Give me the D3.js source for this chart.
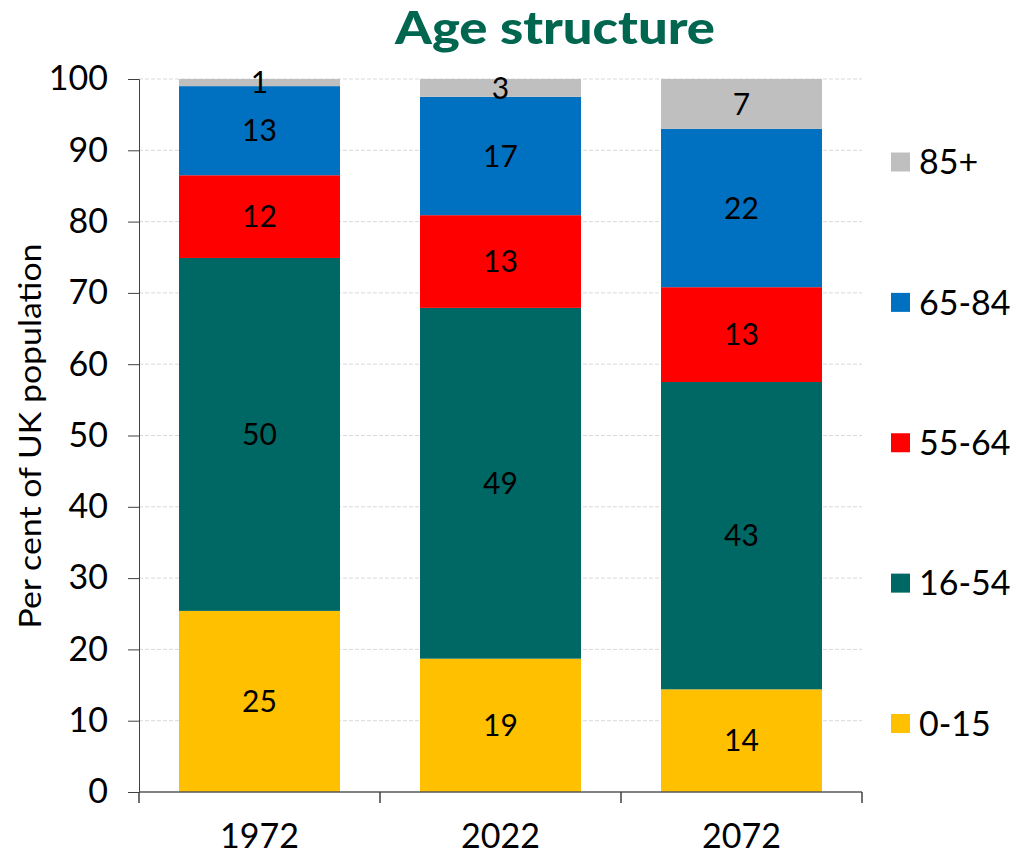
<!DOCTYPE html>
<html>
<head>
<meta charset="utf-8">
<script src="https://cdn.jsdelivr.net/npm/d3@7"></script>
<style>
  body { margin: 0; background: #fff; }
  svg text { font-family: Lato, "Noto Sans", sans-serif; }
</style>
</head>
<body>
<div id="chart"></div>
<script>
// data (per cent of UK population)
var years = ['1972', '2022', '2072'];
var groups = ['0-15', '16-54', '55-64', '65-84', '85+'];
var colours = ['#FFC000', '#006864', '#FF0000', '#0070C0', '#BFBFBF'];
var age0to15 = [25.4, 18.7, 14.4];
var age16to54 = [49.5, 49.2, 43.1];
var age55to64 = [11.6, 13.0, 13.3];
var age65to84 = [12.5, 16.6, 22.2];
var age85plus = [1.0, 2.5, 7.0];
var yTicks = [0, 10, 20, 30, 40, 50, 60, 70, 80, 90, 100];

var w = 1036, h = 855;
var plotLeft = 139, plotRight = 862, plotTop = 79, plotBottom = 792;

var rows = years.map(function (y, i) {
  return { year: y, '0-15': age0to15[i], '16-54': age16to54[i], '55-64': age55to64[i],
           '65-84': age65to84[i], '85+': age85plus[i] };
});
var stack = d3.stack().keys(groups)(rows);

var svg = d3.select('#chart').append('svg').attr('width', w).attr('height', h);

var x = d3.scaleBand().domain(years).range([plotLeft, plotRight]).paddingInner(0.332).paddingOuter(0.166);
var y = d3.scaleLinear().domain([0, 100]).range([plotBottom, plotTop]);
var colour = d3.scaleOrdinal().domain(groups).range(colours);

// gridlines
svg.append('g').selectAll('line').data(yTicks.slice(1)).enter().append('line')
  .attr('x1', plotLeft).attr('x2', plotRight)
  .attr('y1', function (d) { return y(d); }).attr('y2', function (d) { return y(d); })
  .attr('stroke', '#d9d9d9').attr('stroke-width', 1).attr('stroke-dasharray', '4,2');

// bars
var layer = svg.append('g').selectAll('g').data(stack).enter().append('g')
  .attr('fill', function (d) { return colour(d.key); });
layer.selectAll('rect').data(function (d) { return d; }).enter().append('rect')
  .attr('x', function (d) { return x(d.data.year); })
  .attr('width', x.bandwidth())
  .attr('y', function (d) { return y(d[1]); })
  .attr('height', function (d) { return y(d[0]) - y(d[1]); });

// value labels
layer.selectAll('text').data(function (d) { return d; }).enter().append('text')
  .attr('x', function (d) { return x(d.data.year) + x.bandwidth() / 2; })
  .attr('y', function (d) { return (y(d[0]) + y(d[1])) / 2; })
  .attr('dy', '0.36em')
  .attr('text-anchor', 'middle')
  .attr('font-size', 30)
  .attr('fill', '#000')
  .text(function (d) { return Math.round(d[1] - d[0]); });

// y axis
var yAxis = svg.append('g').attr('transform', 'translate(' + plotLeft + ',0)')
  .call(d3.axisLeft(y).tickValues(yTicks).tickSize(11).tickPadding(20));
yAxis.select('.domain').attr('stroke', '#404040');
yAxis.selectAll('.tick line').attr('stroke', '#404040');
yAxis.selectAll('text').attr('font-size', 34).attr('fill', '#000').attr('font-family', 'Lato, sans-serif');

// x axis line and boundary ticks
svg.append('line').attr('x1', plotLeft).attr('x2', plotRight).attr('y1', plotBottom).attr('y2', plotBottom)
  .attr('stroke', '#595959').attr('stroke-width', 1.5);
var bounds = d3.range(years.length + 1).map(function (i) { return plotLeft + i * x.step(); });
svg.append('g').selectAll('line').data(bounds).enter().append('line')
  .attr('x1', function (d) { return d; }).attr('x2', function (d) { return d; })
  .attr('y1', plotBottom).attr('y2', plotBottom + 11)
  .attr('stroke', '#404040').attr('stroke-width', 1.5);
svg.append('g').selectAll('text').data(years).enter().append('text')
  .attr('x', function (d) { return x(d) + x.bandwidth() / 2; })
  .attr('y', 848)
  .attr('text-anchor', 'middle')
  .attr('font-size', 34)
  .text(function (d) { return d; });

// y axis title
svg.append('text')
  .attr('transform', 'translate(41,436) rotate(-90)')
  .attr('text-anchor', 'middle')
  .attr('font-size', 31)
  .attr('textLength', 385).attr('lengthAdjust', 'spacingAndGlyphs')
  .text('Per cent of UK population');

// chart title
svg.append('text')
  .attr('x', 555).attr('y', 44)
  .attr('text-anchor', 'middle')
  .attr('font-size', 46).attr('font-weight', 900)
  .attr('fill', '#006650')
  .attr('textLength', 320).attr('lengthAdjust', 'spacingAndGlyphs')
  .text('Age structure');

// legend, top group first
var legendY = d3.scalePoint().domain(groups.slice().reverse()).range([162, 723.5]);
var legend = svg.append('g').selectAll('g').data(groups).enter().append('g')
  .attr('transform', function (d) { return 'translate(891,' + legendY(d) + ')'; });
legend.append('rect').attr('x', 0).attr('y', -9.5).attr('width', 19).attr('height', 19)
  .attr('fill', function (d) { return colour(d); });
legend.append('text').attr('x', 28).attr('dy', '0.36em')
  .attr('font-size', 34)
  .text(function (d) { return d; });
</script>
</body>
</html>
